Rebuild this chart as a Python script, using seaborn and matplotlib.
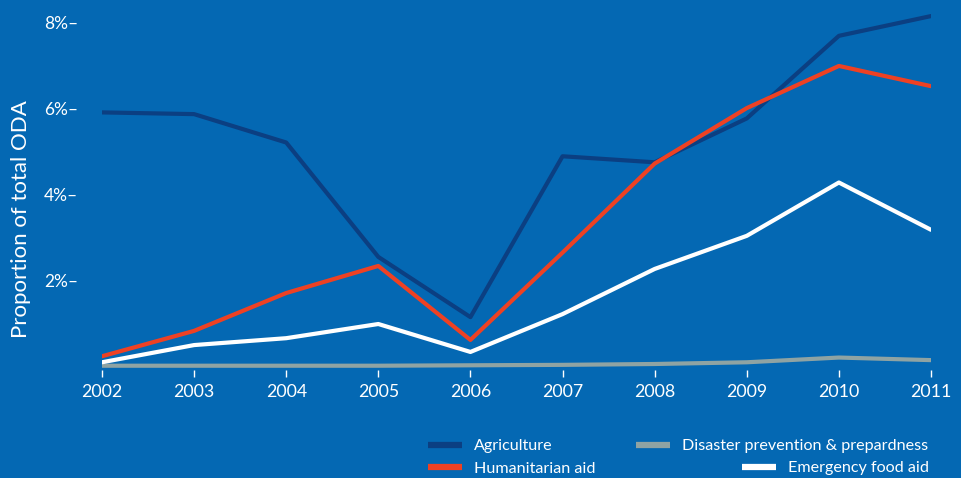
import pandas as pd
import seaborn as sns
import matplotlib.pyplot as plt
from matplotlib.lines import Line2D
from matplotlib.ticker import FuncFormatter

# ---------------------------------------
# 1. Data (share of total ODA, %)
# ---------------------------------------
years = [2002, 2003, 2004, 2005, 2006, 2007, 2008, 2009, 2010, 2011]
agriculture = [5.90, 5.86, 5.20, 2.54, 1.14, 4.88, 4.74, 5.76, 7.68, 8.14]
disaster = [0.01, 0.01, 0.01, 0.01, 0.02, 0.03, 0.05, 0.09, 0.20, 0.14]
humanitarian = [0.23, 0.82, 1.70, 2.33, 0.61, 2.64, 4.71, 6.00, 6.98, 6.51]
food_aid = [0.09, 0.49, 0.65, 0.98, 0.33, 1.21, 2.26, 3.03, 4.27, 3.17]

series = {
    "Agriculture": agriculture,
    "Disaster prevention & prepardness": disaster,
    "Humanitarian aid": humanitarian,
    "Emergency food aid": food_aid,
}
df = pd.concat(
    [pd.DataFrame({"Year": years, "Share": v, "Series": k}) for k, v in series.items()],
    ignore_index=True,
)

colors = {
    "Agriculture": "#0b3f82",
    "Disaster prevention & prepardness": "#8fa3a3",
    "Humanitarian aid": "#ee4123",
    "Emergency food aid": "#ffffff",
}
bg = "#0468b3"

# ---------------------------------------
# 2. Theme
# ---------------------------------------
sns.set_theme(style="white")
plt.rcParams["font.family"] = ["Lato", "DejaVu Sans"]

fig = plt.figure(figsize=(9.61, 4.78), dpi=100, facecolor=bg)
ax = fig.add_axes([0.1061, 0.2259, 0.8627, 0.7531], facecolor=bg)

# ---------------------------------------
# 3. Lines
# ---------------------------------------
sns.lineplot(
    data=df, x="Year", y="Share", hue="Series",
    palette=colors, hue_order=list(series.keys()),
    linewidth=3.0, legend=False, ax=ax,
)

ax.set_xlim(2002, 2011)
ax.set_ylim(-0.09, 8.28)
ax.set_xticks(years)
ax.set_xticklabels([str(y) for y in years])
ax.set_yticks([2, 4, 6, 8])
ax.yaxis.set_major_formatter(FuncFormatter(lambda v, _: f"{v:.0f}%\u2013"))

for s in ax.spines.values():
    s.set_visible(False)

ax.tick_params(axis="x", colors="white", labelsize=12.8, length=5, width=1,
               direction="out", pad=5, bottom=True)
ax.tick_params(axis="y", colors="white", labelsize=12.5, length=0, pad=17, left=False)
ax.set_xlabel("")
ax.set_ylabel("Proportion of total ODA", color="white", fontsize=16)
ax.yaxis.set_label_coords(-0.085, 0.42)

# ---------------------------------------
# 4. Legend (custom layout)
# ---------------------------------------
def handle(name):
    return Line2D([], [], color=colors[name], linewidth=4.5, solid_capstyle="butt")

leg_kw = dict(frameon=False, fontsize=11.6, labelcolor="white", borderaxespad=0,
              handlelength=2.1, handletextpad=0.75, borderpad=0, labelspacing=0.5)

left = ["Agriculture", "Humanitarian aid"]
leg1 = fig.legend([handle(n) for n in left], left, loc="upper left",
                  bbox_to_anchor=(428 / 961, 1 - 439 / 478), **leg_kw)
leg2 = fig.legend([handle("Disaster prevention & prepardness")],
                  ["Disaster prevention & prepardness"], loc="upper left",
                  bbox_to_anchor=(636 / 961, 1 - 439 / 478), **leg_kw)
leg3 = fig.legend([handle("Emergency food aid")], ["Emergency food aid"],
                  loc="upper left", bbox_to_anchor=(742 / 961, 1 - 461 / 478), **leg_kw)

fig.savefig("out.png", dpi=100, facecolor=bg)
